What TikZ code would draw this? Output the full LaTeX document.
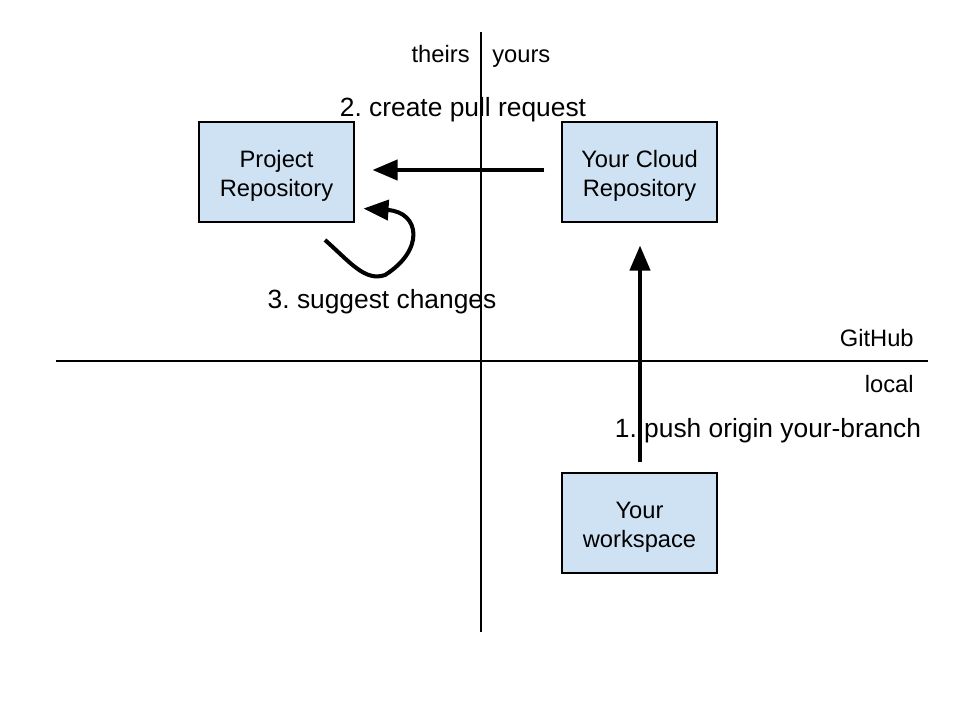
\documentclass[tikz,border=0pt]{standalone}
\usepackage{fontspec}
\setmainfont{Liberation Sans}
\usetikzlibrary{arrows.meta, calc}
\definecolor{repofill}{RGB}{207,226,243}
\frenchspacing
\newcommand{\boxlift}{\rule{0pt}{14.5pt}}

\begin{document}
\begin{tikzpicture}[x=0.02cm, y=-0.02cm,
  repo/.style={rectangle, draw=black, fill=repofill, line width=0.6pt, minimum width=3.1cm, minimum height=2cm, align=center, font=\fontsize{13.5}{16.5}\selectfont},
  side/.style={inner sep=0pt, font=\fontsize{13.5}{16}\selectfont},
  stepnote/.style={inner sep=0pt, font=\fontsize{15}{18}\selectfont},
  flow/.style={line width=2.3pt, -{Triangle[length=0.5cm, width=0.4cm]}}]
  \useasboundingbox (0,0) rectangle (960,720);

  % Axes
  \draw[line width=0.6pt] (481,32) -- (481,632);
  \draw[line width=0.6pt] (56,361) -- (928,361);

  % Nodes
  \node[repo] (project) at (276.5,172) {\boxlift Project\\Repository};
  \node[repo] (cloud) at (639.5,172) {\boxlift Your Cloud\\Repository};
  \node[repo] (work) at (639.5,523) {\boxlift Your\\workspace};

  % Region labels
  \node[side, anchor=base east] (theirs) at (470,62) {theirs};
  \node[side, anchor=base west] (yours) at (492,62) {yours};
  \node[side, anchor=east] (github) at (914,338) {GitHub};
  \node[side, anchor=east] (local) at (914,384) {local};

  % Steps
  \node[stepnote] (push) at (768,431) {1. push origin your-branch};
  \node[stepnote] (pull) at (463,110) {2. create pull request};
  \node[stepnote] (suggest) at (382,302) {3. suggest changes};

  % Edges
  \draw[flow, shorten <=0.2cm, shorten >=0.46cm] ($(work.north)+(0.5,0)$) -- ($(cloud.south)+(0.5,0)$);
  \draw[flow, shorten <=0.34cm, shorten >=0.36cm] ($(cloud.west)+(0,-2)$) -- ($(project.east)+(0,-2)$);
  \coordinate (loop) at (325,240);
  \draw[flow] (loop) .. controls (350,262) and (365,282) .. (385,275)
    .. controls (425,250) and (420,212) .. ($(project.south east)+(9,-14)$);
\end{tikzpicture}
\end{document}
